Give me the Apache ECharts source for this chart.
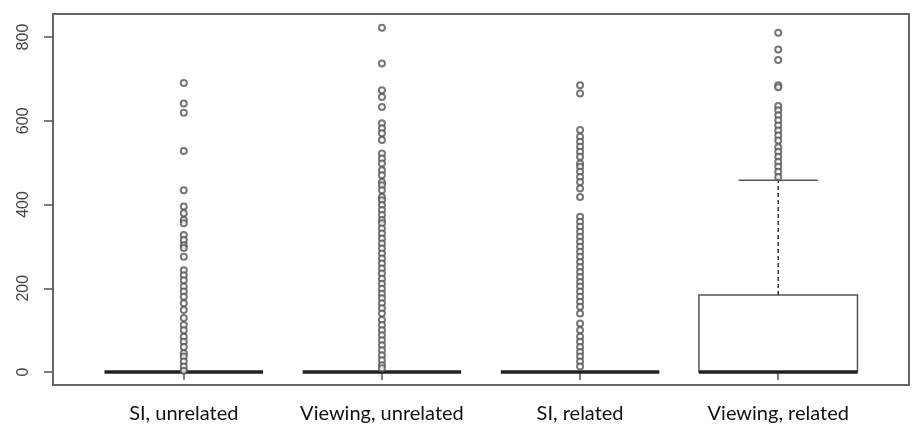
<!DOCTYPE html>
<html>
<head>
<meta charset="utf-8">
<script src="https://cdn.jsdelivr.net/npm/echarts@6/dist/echarts.min.js"></script>
<style>
  html, body { margin: 0; padding: 0; background: #fff; }
  #chart { width: 912px; height: 431px; }
</style>
</head>
<body>
<div id="chart"></div>
<script>
var categories = ['SI, unrelated', 'Viewing, unrelated', 'SI, related', 'Viewing, related'];
var yTicks = [0, 200, 400, 600, 800];

// box stats per group: min, Q1, median, Q3, upper whisker
var boxMin = [0, 0, 0, 0];
var boxQ1 = [0, 0, 0, 0];
var boxMedian = [0, 0, 0, 0];
var boxQ3 = [0, 0, 0, 184];
var boxMax = [0, 0, 0, 458];

// outliers
var siUnrelatedOut = [690, 641, 619, 528, 434, 395, 379, 363, 355, 327, 315, 303, 296, 275, 243, 231, 219, 204, 192, 180, 164, 148, 129, 112, 100, 84, 72, 60, 45, 37, 25, 13, 3];
var viewingUnrelatedOut = [822, 737, 673, 657, 633, 594, 582, 570, 554, 522, 510, 498, 482, 470, 454, 446, 434, 418, 410, 399, 387, 375, 363, 355, 343, 331, 319, 307, 295, 283, 271, 259, 247, 235, 223, 211, 199, 187, 176, 164, 152, 140, 124, 112, 100, 88, 76, 64, 52, 40, 28, 16, 9];
var siRelatedOut = [685, 665, 578, 562, 550, 538, 526, 514, 498, 490, 478, 466, 454, 438, 418, 371, 359, 347, 335, 323, 311, 299, 287, 275, 263, 251, 239, 227, 215, 204, 192, 180, 168, 156, 140, 116, 100, 84, 72, 60, 48, 37, 25, 13];
var viewingRelatedOut = [810, 770, 745, 685, 680, 635, 625, 613, 601, 589, 577, 565, 553, 537, 526, 514, 502, 490, 478, 466];

var outliers = [siUnrelatedOut, viewingUnrelatedOut, siRelatedOut, viewingRelatedOut];

var boxData = categories.map(function(c, i) {
  return [i + 1, boxMin[i], boxQ1[i], boxMedian[i], boxQ3[i], boxMax[i]];
});
var outData = [];
outliers.forEach(function(arr, i) {
  arr.forEach(function(v) { outData.push([i + 1, v]); });
});

var chart = echarts.init(document.getElementById('chart'));

function renderBox(params, api) {
  var x = api.value(0);
  var lo = api.value(1), q1 = api.value(2), med = api.value(3), q3 = api.value(4), hi = api.value(5);
  var hw = 0.4, cw = 0.2;
  var children = [];
  var lineStyle = { stroke: '#555', lineWidth: 1.5, fill: null };
  var dash = { stroke: '#333', lineWidth: 1.5, lineDash: [4, 3], fill: null };
  if (q3 > q1) {
    var a = api.coord([x - hw, q3]);
    var b = api.coord([x + hw, q1]);
    children.push({ type: 'rect', shape: { x: a[0], y: a[1], width: b[0] - a[0], height: b[1] - a[1] }, style: lineStyle });
  }
  if (hi > q3) {
    var p1 = api.coord([x, q3]), p2 = api.coord([x, hi]);
    children.push({ type: 'line', shape: { x1: p1[0], y1: p1[1], x2: p2[0], y2: p2[1] }, style: dash });
    var c1 = api.coord([x - cw, hi]), c2 = api.coord([x + cw, hi]);
    children.push({ type: 'line', shape: { x1: c1[0], y1: c1[1], x2: c2[0], y2: c2[1] }, style: lineStyle });
  }
  if (lo < q1) {
    var p3 = api.coord([x, q1]), p4 = api.coord([x, lo]);
    children.push({ type: 'line', shape: { x1: p3[0], y1: p3[1], x2: p4[0], y2: p4[1] }, style: dash });
  }
  var m1 = api.coord([x - hw, med]), m2 = api.coord([x + hw, med]);
  children.push({ type: 'line', shape: { x1: m1[0], y1: m1[1], x2: m2[0], y2: m2[1] }, style: { stroke: '#222', lineWidth: 3.5 } });
  return { type: 'group', children: children };
}

var option = {
  animation: false,
  grid: {
    left: 53, right: 3, top: 14, bottom: 46,
    show: true, borderColor: '#666', borderWidth: 2, backgroundColor: '#fff'
  },
  xAxis: {
    type: 'value',
    min: 0.34, max: 4.66,
    splitLine: { show: false },
    axisLine: { show: false },
    axisTick: { show: true, length: 8, customValues: [1, 2, 3, 4], lineStyle: { color: '#555', width: 1.5 } },
    axisLabel: {
      customValues: [1, 2, 3, 4],
      formatter: function(v) { return categories[Math.round(v) - 1] || ''; },
      margin: 19,
      fontFamily: 'Lato',
      fontSize: 20,
      color: '#111'
    }
  },
  yAxis: {
    type: 'value',
    min: -31, max: 855,
    splitLine: { show: false },
    axisLine: { show: false },
    axisTick: { show: true, length: 9, customValues: yTicks, lineStyle: { color: '#555', width: 1.5 } },
    axisLabel: {
      customValues: yTicks,
      rotate: 90,
      margin: 21,
      fontFamily: 'Liberation Sans',
      fontSize: 16,
      color: '#444'
    }
  },
  series: [
    {
      type: 'custom',
      renderItem: renderBox,
      data: boxData,
      z: 2
    },
    {
      type: 'scatter',
      data: outData,
      symbol: 'emptyCircle',
      symbolSize: 6,
      clip: false,
      itemStyle: { color: '#555', borderWidth: 1 },
      z: 3
    }
  ]
};
chart.setOption(option);
</script>
</body>
</html>
